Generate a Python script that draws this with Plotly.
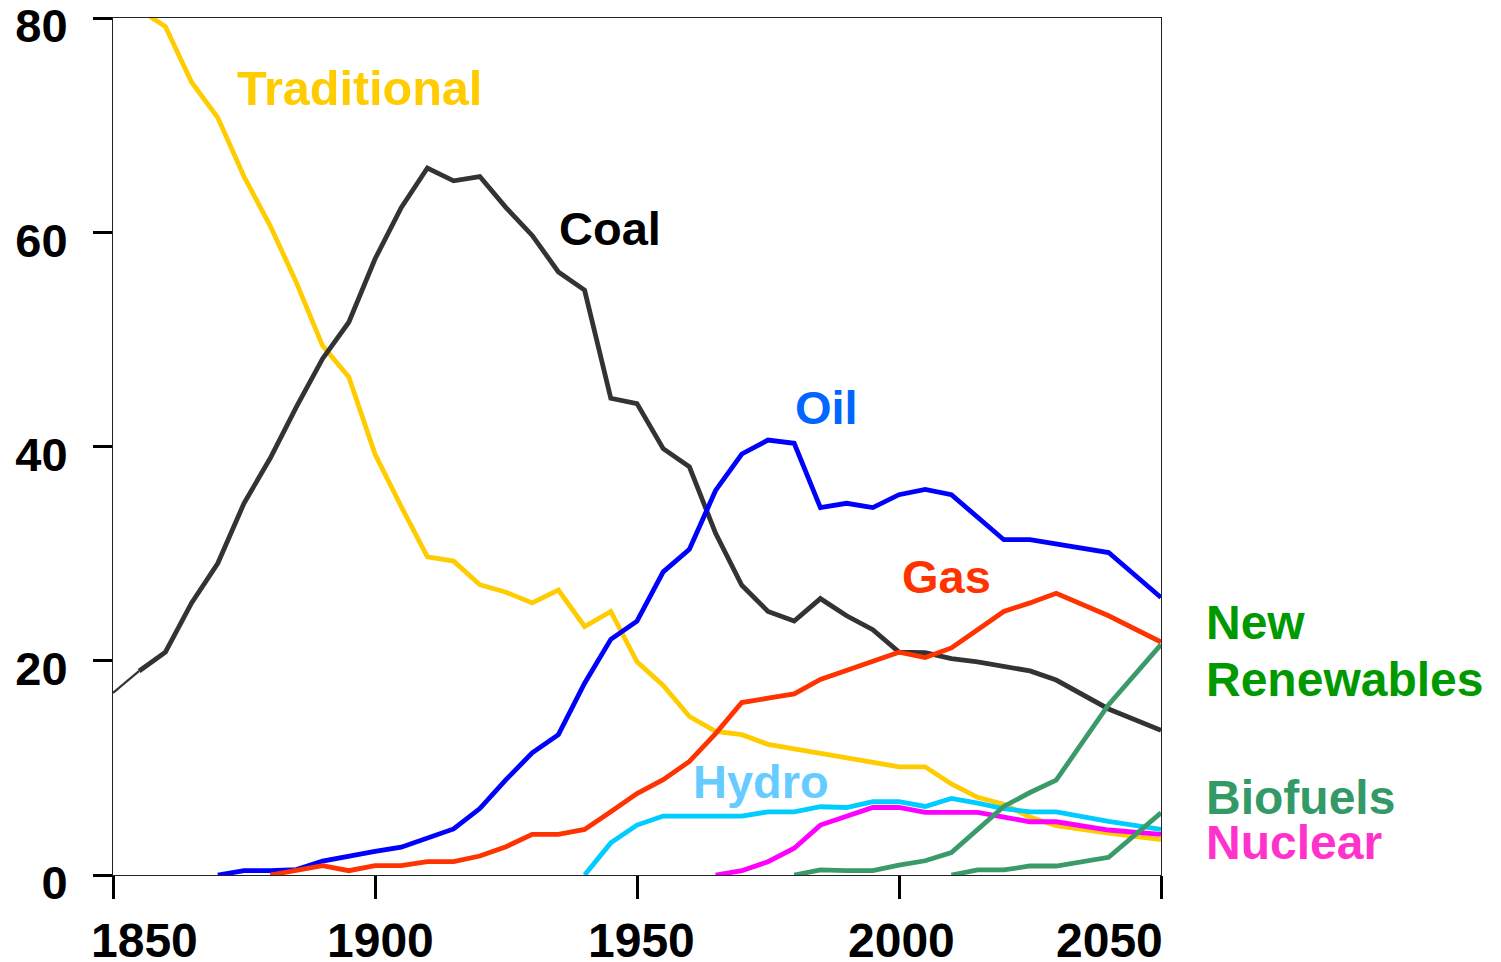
import plotly.graph_objects as go

# ---------------- data ----------------
trad_years = [1855, 1860, 1865, 1870, 1875, 1880, 1885, 1890, 1895, 1900, 1905, 1910, 1915, 1920,
              1925, 1930, 1935, 1940, 1945, 1950, 1955, 1960, 1965, 1970, 1975, 1980, 1985, 1990,
              1995, 2000, 2005, 2010, 2015, 2020, 2025, 2030, 2040, 2050]
trad_vals = [80.8, 79.2, 74.0, 70.7, 65.2, 60.6, 55.3, 49.4, 46.5, 39.3, 34.4, 29.7, 29.3, 27.1,
             26.4, 25.4, 26.6, 23.2, 24.6, 19.9, 17.7, 14.8, 13.4, 13.1, 12.2, 11.8, 11.4, 11.0,
             10.55, 10.1, 10.1, 8.5, 7.25, 6.6, 5.4, 4.6, 3.9, 3.3]

coal_years = [1850, 1855, 1860, 1865, 1870, 1875, 1880, 1885, 1890, 1895, 1900, 1905, 1910, 1915,
              1920, 1925, 1930, 1935, 1940, 1945, 1950, 1955, 1960, 1965, 1970, 1975, 1980, 1985,
              1990, 1995, 2000, 2005, 2010, 2015, 2020, 2025, 2030, 2040, 2050]
coal_vals = [17.0, 19.05, 20.8, 25.4, 29.1, 34.7, 38.9, 43.7, 48.2, 51.6, 57.5, 62.3, 66.0, 64.8,
             65.2, 62.3, 59.7, 56.3, 54.6, 44.5, 44.0, 39.8, 38.1, 31.9, 27.05, 24.6, 23.7, 25.8,
             24.2, 22.9, 20.8, 20.75, 20.2, 19.9, 19.5, 19.05, 18.2, 15.5, 13.5]

oil_years = [1870, 1875, 1880, 1885, 1890, 1895, 1900, 1905, 1910, 1915, 1920, 1925, 1930, 1935,
             1940, 1945, 1950, 1955, 1960, 1965, 1970, 1975, 1980, 1985, 1990, 1995, 2000, 2005,
             2010, 2015, 2020, 2025, 2030, 2040, 2050]
oil_vals = [0.0, 0.4, 0.4, 0.5, 1.3, 1.8, 2.2, 2.6, 3.4, 4.3, 6.2, 8.9, 11.4, 13.1,
            17.9, 22.0, 23.7, 28.3, 30.4, 35.9, 39.3, 40.6, 40.3, 34.3, 34.7, 34.3, 35.5, 36.0,
            35.5, 33.4, 31.3, 31.3, 30.9, 30.1, 25.9]

gas_years = [1880, 1885, 1890, 1895, 1900, 1905, 1910, 1915, 1920, 1925, 1930, 1935, 1940, 1945,
             1950, 1955, 1960, 1965, 1970, 1975, 1980, 1985, 1990, 1995, 2000, 2005, 2010, 2015,
             2020, 2025, 2030, 2040, 2050]
gas_vals = [0.0, 0.47, 0.87, 0.4, 0.87, 0.87, 1.24, 1.24, 1.77, 2.64, 3.8, 3.8, 4.25, 5.9,
            7.6, 8.9, 10.6, 13.2, 16.1, 16.5, 16.9, 18.25, 19.1, 19.9, 20.8, 20.3, 21.2, 22.9,
            24.6, 25.4, 26.3, 24.2, 21.75]

hydro_years = [1940, 1945, 1950, 1955, 1960, 1965, 1970, 1975, 1980, 1985, 1990, 1995, 2000,
               2005, 2010, 2015, 2020, 2025, 2030, 2040, 2050]
hydro_vals = [0.0, 3.0, 4.66, 5.5, 5.5, 5.5, 5.5, 5.9, 5.9, 6.37, 6.3, 6.84, 6.84,
              6.4, 7.15, 6.7, 6.2, 5.9, 5.9, 5.0, 4.26]

nuc_years = [1965, 1970, 1975, 1980, 1985, 1990, 1995, 2000, 2005, 2010, 2015, 2020, 2025,
             2030, 2040, 2050]
nuc_vals = [0.0, 0.4, 1.24, 2.5, 4.66, 5.5, 6.3, 6.3, 5.84, 5.84, 5.84, 5.4, 4.97,
            4.97, 4.2, 3.8]

newren_years = [1980, 1985, 1990, 1995, 2000, 2005, 2010, 2015, 2020, 2025, 2030, 2040, 2050]
newren_vals = [0.0, 0.47, 0.4, 0.4, 0.93, 1.33, 2.1, 4.2, 6.4, 7.7, 8.86, 15.9, 21.5]

bio_years = [2010, 2015, 2020, 2025, 2030, 2040, 2050]
bio_vals = [0.0, 0.47, 0.47, 0.84, 0.84, 1.65, 5.8]

x_ticks = [1850, 1900, 1950, 2000, 2050]
x_tick_labels = ["1850", "1900", "1950", "2000", "2050"]
y_ticks = [0, 20, 40, 60, 80]
y_tick_labels = ["0", "20", "40", "60", "80"]

# ---------------- figure ----------------
FONT = "Liberation Sans, Arial, sans-serif"
LW = 4.8
GREEN_LINE = "#3a9a6a"
X0, X1 = 1850, 2050

fig = go.Figure()

def line(xs, ys, color, width=LW):
    fig.add_trace(go.Scatter(x=xs, y=ys, mode="lines",
                             line=dict(color=color, width=width),
                             hoverinfo="skip", showlegend=False))

line(trad_years, trad_vals, "#FFCC00")
line(coal_years[:2], coal_vals[:2], "#333333", width=2.2)
line(coal_years[1:], coal_vals[1:], "#333333")
line(oil_years, oil_vals, "#0000FF")
line(gas_years, gas_vals, "#FF3300")
line(hydro_years, hydro_vals, "#00CCFF")
line(nuc_years, nuc_vals, "#FF00FF")
line(bio_years, bio_vals, GREEN_LINE)
line(newren_years, newren_vals, GREEN_LINE)

# labels inside the plot (data coordinates)
inside_labels = [
    ("Traditional", 1897.1, 73.5, "#FFCC00", 48.5),
    ("Coal", 1944.9, 60.35, "#000000", 47),
    ("Oil", 1986.1, 43.66, "#0066FF", 47),
    ("Gas", 2009.0, 27.9, "#FF3300", 47),
    ("Hydro", 1973.6, 8.77, "#66CCFF", 47),
]
for txt, x, y, c, sz in inside_labels:
    fig.add_annotation(x=x, y=y, xref="x", yref="y", text=txt, showarrow=False,
                       xanchor="center", yanchor="middle",
                       font=dict(family=FONT, size=sz, color=c, weight="bold"))

# labels to the right of the plot (x in years, converted to paper fraction)
outside_labels = [
    ("New", 2058.2, 23.6, "#009900"),
    ("Renewables", 2058.2, 18.28, "#009900"),
    ("Biofuels", 2058.2, 7.28, "#339966"),
    ("Nuclear", 2058.2, 2.99, "#FF33CC"),
]
for txt, x, y, c in outside_labels:
    fig.add_annotation(x=(x - X0) / (X1 - X0), y=y, xref="paper", yref="y", text=txt,
                       showarrow=False, xanchor="left", yanchor="middle",
                       font=dict(family=FONT, size=48, color=c, weight="bold"))

# x tick labels (first and last pulled inward as in the original)
x_shifts = [31, 5, 4, 2, -52]
for v, t, s in zip(x_ticks, x_tick_labels, x_shifts):
    fig.add_annotation(x=v, y=0, xref="x", yref="paper", text=t, showarrow=False,
                       xanchor="center", yanchor="middle", xshift=s, yshift=-65,
                       font=dict(family=FONT, size=48, color="#000000", weight="bold"))

fig.update_xaxes(range=[X0, X1], tickvals=x_ticks, showticklabels=False,
                 ticks="outside", ticklen=23, tickwidth=3, tickcolor="#000000",
                 showline=True, linecolor="#222222", linewidth=1, mirror=True,
                 showgrid=False, zeroline=False, automargin=False)
fig.update_yaxes(range=[0, 80], tickvals=y_ticks, ticktext=y_tick_labels,
                 ticks="outside", ticklen=19, tickwidth=3, tickcolor="#000000",
                 ticklabelstandoff=16, ticklabelshift=8, ticklabeloverflow="allow",
                 tickfont=dict(family=FONT, size=47, color="#000000", weight="bold"),
                 showline=True, linecolor="#222222", linewidth=1, mirror=True,
                 showgrid=False, zeroline=False, automargin=False)

fig.update_layout(width=1493, height=954,
                  margin=dict(l=105, r=340, t=10, b=87),
                  paper_bgcolor="white", plot_bgcolor="white",
                  font=dict(family=FONT))

fig.write_html("out.html")
